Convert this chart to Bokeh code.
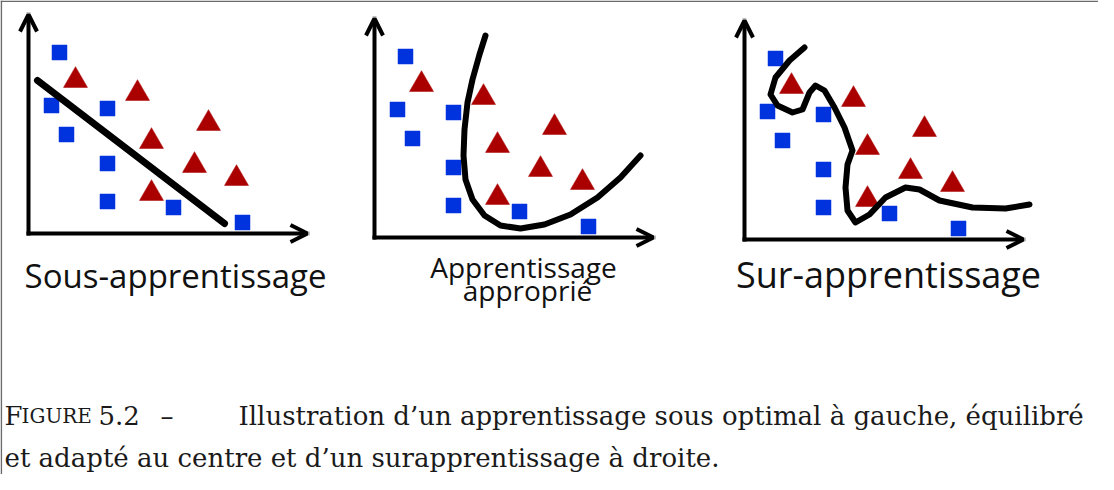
from bokeh.plotting import figure
from bokeh.models import Range1d, Arrow, OpenHead, Span
from bokeh.embed import file_html
from bokeh.resources import INLINE
from bokeh.core.properties import value

# ---------------- data (shared point cloud, local axis units, y up) ----------------
square_x = [31, 23, 38, 79, 79, 79, 145, 214]
square_y = [181, 128, 99, 125, 70, 32, 26, 11]
triangle_x = [47, 109, 123, 180, 166, 208, 123]
triangle_y = [153, 140, 92, 110, 68, 55, 40]

# decision boundaries for each panel
under_x = [9, 196]
under_y = [153, 10]
good_x = [111, 105, 98, 93, 90, 89, 91, 98, 110, 126, 146, 170, 196, 223, 246, 266]
good_y = [202, 183, 158, 135, 108, 82, 58, 38, 22, 12, 9, 13, 23, 40, 60, 82]
over_x = [60, 45, 31, 26, 33, 48, 58, 65, 71, 80, 90, 100, 108, 103, 101, 103, 111,
          125, 141, 161, 175, 195, 228, 261, 285]
over_y = [192, 179, 162, 145, 134, 127, 130, 147, 154, 149, 132, 112, 89, 75, 52, 29,
          17, 25, 42, 52, 50, 39, 32, 31, 35]

panel_titles = ["Sous-apprentissage", ["Apprentissage", "approprié"], "Sur-apprentissage"]

caption_cap = "F"
caption_smallcaps = "IGURE"
caption_number = "5.2"
caption_dash = "–"
caption_line1 = "Illustration d’un apprentissage sous optimal à gauche, équilibré"
caption_line2 = "et adapté au centre et d’un surapprentissage à droite."

# ---------------- layout ----------------
W, H = 1098, 474
p = figure(width=W, height=H, x_range=Range1d(8, 8 + W), y_range=Range1d(8 + H, 8),
           output_backend="svg", toolbar_location=None,
           x_axis_location=None, y_axis_location=None,
           min_border=0, outline_line_color=None)
p.grid.visible = False
p.background_fill_color = "white"

# page frame (top and left edges)
p.add_layout(Span(location=8.8, dimension="width", line_color="#6a6a6a", line_width=1.6))
p.add_layout(Span(location=8.8, dimension="height", line_color="#6a6a6a", line_width=1.6))

origins = [(36, 241), (382, 245), (752, 247)]
AX_X, AX_Y = 279, 219
BLUE = "#0033DD"
RED = "#AA0000"
curves = [(under_x, under_y, 7), (good_x, good_y, 6), (over_x, over_y, 6)]

for i, (ox, oy) in enumerate(origins):
    # axes as arrows
    p.add_layout(Arrow(end=OpenHead(size=17, line_width=4, line_color="black"),
                       x_start=ox, y_start=oy, x_end=ox + AX_X, y_end=oy,
                       line_width=4, line_color="black", line_cap="square"))
    p.add_layout(Arrow(end=OpenHead(size=17, line_width=4, line_color="black"),
                       x_start=ox, y_start=oy, x_end=ox, y_end=oy - AX_Y,
                       line_width=4, line_color="black", line_cap="square"))
    # points
    p.scatter([ox + v for v in square_x], [oy - v for v in square_y],
              marker="square", size=15, fill_color=BLUE, line_color=BLUE, line_width=0.5)
    p.scatter([ox + v for v in triangle_x], [oy - v for v in triangle_y],
              marker="triangle", size=24, fill_color=RED, line_color=RED, line_width=0.5)
    # boundary
    cx, cy, lw = curves[i]
    p.line([ox + v for v in cx], [oy - v for v in cy], line_width=lw,
           line_color="black", line_cap="round", line_join="round")


def base(y, size):
    # small correction so that the glyph baseline lands on y
    return y - 0.22 * size


# panel titles
p.text(x=[origins[0][0] + 147], y=[base(290, 33)], text=[panel_titles[0]],
       text_font=value("Open Sans"), text_font_size="33px",
       text_align="center", text_baseline="alphabetic", text_color="#111111")
p.text(x=[origins[1][0] + 149, origins[1][0] + 153], y=[base(281, 28), base(304, 28)],
       text=panel_titles[1],
       text_font=value("Open Sans"), text_font_size="28px",
       text_align="center", text_baseline="alphabetic", text_color="#111111")
p.text(x=[origins[2][0] + 144], y=[base(290, 36)], text=[panel_titles[2]],
       text_font=value("Open Sans"), text_font_size="36px",
       text_align="center", text_baseline="alphabetic", text_color="#111111")

# caption
serif = value("DejaVu Serif")
CS = 26
common = dict(text_font=serif, text_baseline="alphabetic", text_color="#1a1a1a")
p.text(x=[12], y=[base(429, CS)], text=[caption_cap], text_font_size=f"{CS}px", **common)
p.text(x=[29], y=[base(429, CS)], text=[caption_smallcaps], text_font_size="20px", **common)
p.text(x=[106], y=[base(429, CS)], text=[caption_number], text_font_size=f"{CS}px", **common)
p.text(x=[168], y=[base(429, CS)], text=[caption_dash], text_font_size=f"{CS}px", **common)
p.text(x=[246], y=[base(429, CS)], text=[caption_line1], text_font_size=f"{CS}px", **common)
p.text(x=[12], y=[base(471, CS)], text=[caption_line2], text_font_size=f"{CS}px", **common)

open("out.html", "w").write(file_html(p, INLINE))
